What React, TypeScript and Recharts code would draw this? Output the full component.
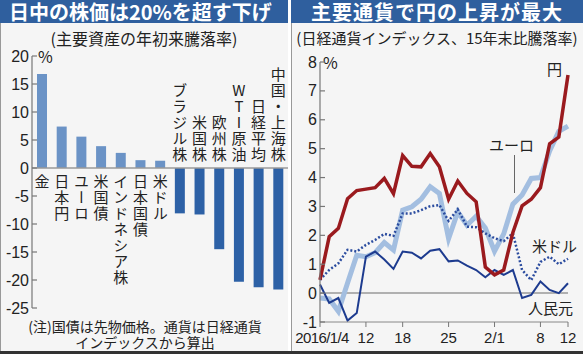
import { BarChart, Bar, XAxis, YAxis, ReferenceLine, LabelList, Cell, LineChart, Line } from "recharts";

const JP = '"Noto Sans CJK JP", "Noto Sans", sans-serif';
const NUM = '"Liberation Sans Narrow", "Liberation Sans", Arial, sans-serif';

// left: year-to-date change of major assets (%)
const assets = ["金", "日本円", "ユーロ", "米国債", "インドネシア株", "日本国債", "米ドル", "ブラジル株", "米国株", "欧州株", "WTI原油", "日経平均", "中国・上海株"];
const assetChange = [16.8, 7.4, 5.6, 3.9, 2.7, 1.4, 1.3, -8.1, -8.3, -14.5, -20.3, -21.3, -21.7];
const barTicks = [20, 15, 10, 5, 0, -5, -10, -15, -20, -25];

// right: Nikkei currency index, change vs end of 2015 (%)
const days = ["1/4", "1/5", "1/6", "1/7", "1/8", "1/12", "1/13", "1/14", "1/15", "1/18", "1/19", "1/20", "1/21", "1/22", "1/25", "1/26", "1/27", "1/28", "1/29", "2/1", "2/2", "2/3", "2/4", "2/5", "2/8", "2/9", "2/10", "2/12"];
const yen = [0.46, 1.95, 2.24, 3.27, 3.55, 3.6, 3.65, 3.97, 3.44, 4.76, 4.39, 4.37, 4.83, 4.37, 3.25, 3.88, 3.45, 3.16, 0.9, 0.63, 0.8, 2.1, 3.02, 3.25, 3.65, 5.17, 5.4, 7.55];
const euro = [-0.17, -0.2, -0.63, 0.35, 1.31, 1.26, 1.4, 1.75, 1.49, 2.87, 2.99, 3.25, 3.68, 3.45, 1.89, 2.81, 2.35, 2.66, 2.25, 1.45, 2.05, 3.08, 3.4, 3.97, 4.0, 4.92, 5.6, 5.78];
const dollar = [0.46, 0.8, 1.03, 1.5, 1.44, 1.67, 1.84, 2.05, 1.98, 2.76, 2.76, 2.87, 3.01, 3.05, 2.5, 2.9, 2.3, 2.28, 2.07, 1.9, 1.8, 2.07, 0.8, 0.45, 1.08, 1.26, 1.0, 1.19];
const yuan = [0.3, -0.34, -0.17, -0.95, -0.69, 1.26, 1.44, 1.16, 0.84, 1.44, 1.4, 1.2, 1.47, 1.52, 1.1, 1.13, 0.95, 0.8, 0.55, 0.8, 0.63, 0.8, -0.17, -0.06, 0.4, 0.11, 0.0, 0.34];
const lineTicks = [-1, 0, 1, 2, 3, 4, 5, 6, 7, 8];
const dayTicks = ["1/4", "1/12", "1/18", "1/25", "2/1", "2/8", "2/12"];
const dayTickLabels = ["2016/1/4", "12", "18", "25", "2/1", "8", "12"];

const barData = assets.map((name, i) => ({ name, value: assetChange[i] }));
const lineData = days.map((date, i) => ({ date, yen: yen[i], euro: euro[i], dollar: dollar[i], yuan: yuan[i] }));

const BLUE_BAR = "#2f5f9e";

function YTick(props: any) {
  const { x, y, payload } = props;
  return (
    <g>
      <line x1={x} x2={x + 5} y1={y} y2={y} stroke="#777" strokeWidth={1.2} />
      <text x={x - 3} y={y} dy={5.5} textAnchor="end" fontSize={16} fill="#222" fontFamily={NUM}>
        {payload.value}
      </text>
    </g>
  );
}

function DayTick(props: any) {
  const { x, y, payload } = props;
  const i = dayTicks.indexOf(payload.value);
  // first label sits a bit right of its tick, as in the print
  return (
    <text x={x + (i === 0 ? 2 : 0)} y={y} dy={12} textAnchor="middle" fontSize={15} letterSpacing={i === 0 ? -0.6 : 0} fill="#222" fontFamily={NUM}>
      {dayTickLabels[i]}
    </text>
  );
}

function AssetLabel(props: any) {
  const { x, y, width, height, value, index } = props;
  const v = assetChange[index];
  const cx = x + width / 2;
  const zeroY = v >= 0 ? y + height : height < 0 ? y + height : y;
  return (
    <text
      x={cx}
      y={v >= 0 ? zeroY + 6 : zeroY - 5}
      textAnchor={v >= 0 ? "start" : "end"}
      fontSize={15}
      letterSpacing={1}
      fill="#222"
      fontFamily={JP}
      style={{ writingMode: "vertical-rl", textOrientation: "upright" } as any}
    >
      {value}
    </text>
  );
}

const abs = (l: number, t: number, extra: any = {}) => ({ position: "absolute" as const, left: l, top: t, ...extra });

export default function App() {
  return (
    <div style={{ position: "absolute", left: 0, top: 0, width: 583, height: 354, background: "#fff", fontFamily: JP, color: "#222", overflow: "hidden" }}>
      {/* left panel */}
      <div style={abs(0, 0, { width: 288, height: 354, background: "#f5f5f5", borderLeft: "1px solid #999", boxSizing: "border-box" })} />
      <div style={abs(0, 0, { width: 288, height: 23, background: BLUE_BAR, color: "#fff", fontSize: 20, fontWeight: 700, lineHeight: "23px", paddingLeft: 9, boxSizing: "border-box", whiteSpace: "nowrap" })}>
        日中の株価は20%を超す下げ
      </div>
      <div style={abs(0, 28, { width: 288, textAlign: "center", fontSize: 16, lineHeight: "20px", whiteSpace: "nowrap" })}>
        (主要資産の年初来騰落率)
      </div>
      <div style={abs(38, 47, { fontSize: 16, lineHeight: "18px" })}>%</div>
      <div style={abs(0, 318, { width: 290, textAlign: "center", fontSize: 14, lineHeight: "16px", whiteSpace: "nowrap" })}>
        (注)国債は先物価格。通貨は日経通貨
      </div>
      <div style={abs(0, 334, { width: 290, textAlign: "center", fontSize: 14, lineHeight: "16px", whiteSpace: "nowrap" })}>
        インデックスから算出
      </div>
      <div style={abs(0, 0)}>
        <BarChart width={290} height={354} data={barData} margin={{ top: 56, right: 2, bottom: 46, left: 0 }}>
          <XAxis dataKey="name" hide />
          <YAxis
            domain={[-25, 20]}
            ticks={barTicks}
            interval={0}
            width={32}
            tickSize={0}
            tickMargin={0}
            tickLine={false}
            axisLine={{ stroke: "#777", strokeWidth: 1.2 }}
            tick={<YTick />}
          />
          <ReferenceLine y={0} stroke="#999" strokeWidth={1.5} />
          <Bar dataKey="value" barSize={10} isAnimationActive={false}>
            {barData.map((d, i) => (
              <Cell key={i} fill={d.value >= 0 ? "#6b93c6" : "#2d61a6"} />
            ))}
            <LabelList dataKey="name" content={<AssetLabel />} />
          </Bar>
        </BarChart>
      </div>

      {/* right panel */}
      <div style={abs(291, 0, { width: 292, height: 354, background: "#f5f5f5", borderLeft: "1px solid #999", boxSizing: "border-box" })} />
      <div style={abs(291, 0, { width: 292, height: 23, background: BLUE_BAR, color: "#fff", fontSize: 20, fontWeight: 700, lineHeight: "23px", textAlign: "center", letterSpacing: 1, whiteSpace: "nowrap" })}>
        主要通貨で円の上昇が最大
      </div>
      <div style={abs(291, 28, { width: 292, textAlign: "center", fontSize: 15, lineHeight: "20px", whiteSpace: "nowrap" })}>
        (日経通貨インデックス、15年末比騰落率)
      </div>
      <div style={abs(323, 53, { fontSize: 16, lineHeight: "18px" })}>%</div>
      <div style={abs(291, 0)}>
        <LineChart width={292} height={354} data={lineData} margin={{ top: 62, right: 15, bottom: 2, left: 0 }}>
          <XAxis
            dataKey="date"
            ticks={dayTicks}
            interval={0}
            height={30}
            tickSize={5}
            tickMargin={4}
            axisLine={{ stroke: "#888" }}
            tickLine={{ stroke: "#777" }}
            tick={<DayTick />}
          />
          <YAxis
            domain={[-1, 8]}
            ticks={lineTicks}
            interval={0}
            width={29}
            tickSize={0}
            tickMargin={0}
            tickLine={false}
            axisLine={{ stroke: "#777", strokeWidth: 1.2 }}
            tick={<YTick />}
          />
          <ReferenceLine y={0} stroke="#999" strokeWidth={1.5} />
          <Line dataKey="euro" stroke="#a3bee0" strokeWidth={5} dot={false} isAnimationActive={false} />
          <Line dataKey="dollar" stroke="#2b4c9f" strokeWidth={2.5} strokeDasharray="2 2" dot={false} isAnimationActive={false} />
          <Line dataKey="yuan" stroke="#1d3b8f" strokeWidth={2} dot={false} isAnimationActive={false} />
          <Line dataKey="yen" stroke="#9a1a1e" strokeWidth={3.5} dot={false} isAnimationActive={false} />
        </LineChart>
      </div>
      <div style={abs(547, 60, { fontSize: 15, lineHeight: "17px" })}>円</div>
      <div style={abs(489, 136, { fontSize: 15, lineHeight: "17px" })}>ユーロ</div>
      <div style={abs(514, 155, { width: 1, height: 38, background: "#666" })} />
      <div style={abs(532, 237, { fontSize: 15, lineHeight: "17px" })}>米ドル</div>
      <div style={abs(528, 299, { fontSize: 15, lineHeight: "17px" })}>人民元</div>

      <div style={abs(0, 351, { width: 583, height: 3, background: "#333" })} />
    </div>
  );
}
